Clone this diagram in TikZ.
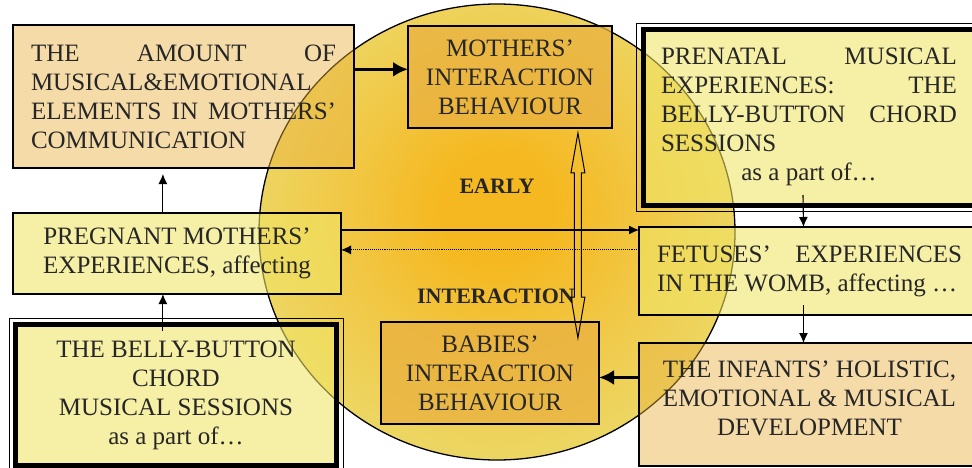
\documentclass[tikz,border=0pt]{standalone}
\usepackage{fontspec}
\setmainfont{Liberation Serif}
\usepackage{tikz}
\usetikzlibrary{arrows.meta,positioning,calc}
\definecolor{inktext}{HTML}{262626}
\definecolor{wombcore}{HTML}{F5B820}
\definecolor{wombmid}{HTML}{F1C948}
\definecolor{wombrim}{HTML}{EADC6E}
\definecolor{tanfill}{HTML}{E9B140}
\definecolor{paleyellow}{HTML}{F0E566}
\pgfdeclareradialshading{wombglow}{\pgfpoint{0bp}{3bp}}{color(0bp)=(wombcore); color(6bp)=(wombcore); color(17bp)=(wombmid); color(30bp)=(wombrim); color(50bp)=(wombrim)}

\begin{document}
\begin{tikzpicture}[x=1pt,y=-1pt,>={Latex[length=10pt,width=9pt]},
    box/.style={draw=black, line width=1.2pt, outer sep=0pt, inner sep=0pt, text=inktext, text opacity=1, font=\fontsize{25}{29}\selectfont, anchor=north west},
    tanbox/.style={box, fill=tanfill, fill opacity=0.45},
    goldbox/.style={box, fill=tanfill, fill opacity=0.75},
    palebox/.style={box, fill=paleyellow, fill opacity=0.58},
    framedbox/.style={palebox, line width=5pt},
    link/.style={->, line width=1.1pt},
    boldlink/.style={-{Latex[length=15pt,width=15pt]}, line width=3.5pt},
    stage/.style={font=\fontsize{22}{26}\selectfont\bfseries, text=inktext}]
	\useasboundingbox (0,0) rectangle (972,468);
	\fill[white] (0,0) rectangle (972,468);
	% the big circle behind everything
	\shadedraw[shading=wombglow, line width=1.3pt] (497,232) ellipse [x radius=238, y radius=228];
	\node[stage] (early) at (497,186) {EARLY};
	\node[stage] (interaction) at (496,296) {INTERACTION};

	\node[tanbox, minimum width=341pt, minimum height=143pt, text width=305pt, align=justify] (amount) at (13,25) {THE AMOUNT OF\linebreak MUSICAL\&EMOTIONAL\linebreak ELEMENTS IN MOTHERS'\linebreak COMMUNICATION};
	\node[goldbox, minimum width=204pt, minimum height=102pt, align=center] (mothers) at (408,26) {MOTHERS'\\INTERACTION\\BEHAVIOUR};
	\node[framedbox, minimum width=332pt, minimum height=175.5pt, text width=296pt, align=justify] (prenatal) at (643,29.5) {PRENATAL MUSICAL\linebreak EXPERIENCES: THE\linebreak BELLY-BUTTON CHORD\linebreak SESSIONS\par{\centering as a part of\ldots\par}};
	\node[palebox, minimum width=328pt, minimum height=81pt, align=center] (pregnant) at (13,213) {PREGNANT MOTHERS'\\EXPERIENCES, affecting};
	\node[palebox, minimum width=341pt, minimum height=88pt, text width=305pt, align=justify] (fetuses) at (639,227) {FETUSES' EXPERIENCES\linebreak IN THE WOMB, affecting \ldots};
	\node[framedbox, minimum width=321pt, minimum height=141pt, align=center] (sessions) at (15.5,324.5) {THE BELLY-BUTTON\\CHORD\\MUSICAL SESSIONS\\as a part of\ldots};
	\node[goldbox, minimum width=218pt, minimum height=102pt, align=center] (babies) at (381,322) {BABIES'\\INTERACTION\\BEHAVIOUR};
	\node[tanbox, minimum width=341pt, minimum height=123pt, text depth=12pt, align=center] (infants) at (639,343) {THE INFANTS' HOLISTIC,\\EMOTIONAL \& MUSICAL\\DEVELOPMENT};

	% thin outer frame of the two framed boxes
	\foreach \b in {prenatal,sessions}
		\draw[line width=0.8pt] ($(\b.north west)+(-6.5,-6.5)$) rectangle ($(\b.south east)+(6.5,6.5)$);

	% connectors
	\coordinate (a1) at ($(amount.north east)!0.31!(amount.south east)$);
	\draw[boldlink] (a1) -- (mothers.west |- a1);
	\coordinate (p1) at ($(pregnant.north west)!0.457!(pregnant.north east)$);
	\draw[link, shorten >=6pt] (p1) -- (amount.south -| p1);
	\path ([yshift=-6pt]sessions.north) coordinate (s1);
	\draw[link] (s1 -| p1) -- (pregnant.south -| p1);
	\coordinate (p2) at ($(pregnant.north east)!0.21!(pregnant.south east)$);
	\draw[link] (p2) -- (fetuses.west |- p2);
	\coordinate (f1) at ($(fetuses.north west)!0.26!(fetuses.south west)$);
	\draw[link, line width=0.9pt, densely dotted] (f1) -- (pregnant.east |- f1);
	\draw[link] ([xshift=-6pt,yshift=10pt]prenatal.south) -- ([xshift=-6pt]fetuses.north);
	\draw[link] ([xshift=-6pt,yshift=10pt]fetuses.south) -- ([xshift=-6pt]infants.north);
	\coordinate (i1) at ($(infants.north west)!0.28!(infants.south west)$);
	\draw[boldlink] (i1) -- (babies.east |- i1);

	% hollow two-way arrow between the behaviours
	\coordinate (ht) at ($(mothers.south west)!0.833!(mothers.south east)+(0,5)$);
	\coordinate (hb) at ($(ht |- babies.north)+(0,16)$);
	\draw[line width=1pt] (ht) -- ++(7,40) -- ++(-3.5,0) -- ($(hb)+(3.5,-41)$) -- ++(3.5,0) -- (hb)
		-- ++(-7,-41) -- ++(3.5,0) -- ($(ht)+(-3.5,40)$) -- ++(-3.5,0) -- cycle;
\end{tikzpicture}
\end{document}
